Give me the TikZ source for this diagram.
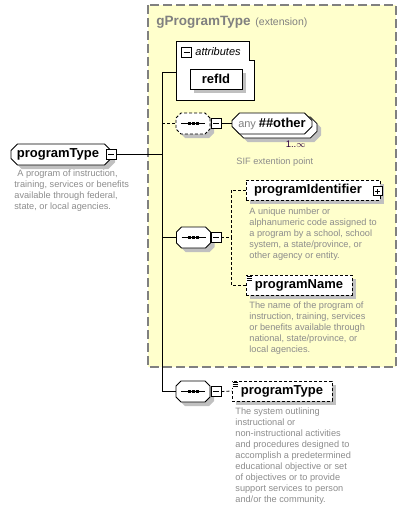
\documentclass[tikz,border=0pt]{standalone}
\usepackage{fontspec}
\setmainfont{Liberation Sans}
\usetikzlibrary{shapes.misc,shadows,calc}

\definecolor{grpfill}{RGB}{255,255,204}
\definecolor{grpline}{RGB}{128,128,128}
\definecolor{shade}{RGB}{192,192,192}
\definecolor{notecol}{RGB}{140,140,140}

\tikzset{
  shd/.style={drop shadow={shadow xshift=4pt,shadow yshift=-4pt,fill=shade,opacity=1}},
  elem/.style={draw,fill=white,inner sep=0pt,shd,font=\fontsize{13}{15}\selectfont\bfseries},
  opt/.style={dash pattern=on 3pt off 2pt},
  grp/.style={draw=grpline,fill=grpfill,line width=1.2pt,dash pattern=on 9pt off 4pt},
  pm/.style={draw,fill=white,minimum size=10pt,inner sep=0pt,
    path picture={\draw ([xshift=2pt]path picture bounding box.west) -- ([xshift=-2pt]path picture bounding box.east);}},
  pp/.style={draw,fill=white,minimum size=9pt,inner sep=0pt,
    path picture={\draw ([xshift=2pt]path picture bounding box.west) -- ([xshift=-2pt]path picture bounding box.east);
      \draw ([yshift=2pt]path picture bounding box.south) -- ([yshift=-2pt]path picture bounding box.north);}},
  seq/.style={draw,fill=white,shd,chamfered rectangle,chamfered rectangle xsep=5pt,inner sep=0pt,
    minimum width=34pt,minimum height=21pt,execute at begin node={\rule[-7pt]{0pt}{14pt}},
    path picture={\draw[solid] ([xshift=5pt]path picture bounding box.west) -- ([xshift=-5pt]path picture bounding box.east);
      \foreach \d in {-4,0,4}{\fill[black] ([xshift=\d pt]path picture bounding box.center) +(-1.5pt,-1.5pt) rectangle +(1.5pt,1.5pt);}}},
  note/.style={anchor=north west,align=left,inner sep=0pt,text=notecol,font=\fontsize{9.2}{11}\selectfont}
}

\begin{document}
\begin{tikzpicture}[x=1pt,y=-1pt,line width=0.8pt]
\useasboundingbox (0,0) rectangle (406,511);

% extension group
\draw[grp] (148,5) rectangle (396,367);
\node[anchor=base west,inner sep=0pt,text=grpline,font=\fontsize{13.5}{15}\selectfont\bfseries] (gname) at (156,26) {gProgramType};
\node[anchor=base west,inner sep=0pt,text=grpline,font=\fontsize{10.5}{12}\selectfont] (gext) at ([xshift=4pt]gname.base east) {(extension)};

% attributes
\draw[fill=white] (176,41) -- (249,41) -- (249,60) -- (254,60) -- (254,100) -- (176,100) -- cycle;
\coordinate (attrin) at (176,72);
\node[pm] (attrpm) at (186.5,52) {};
\node[anchor=west,inner sep=0pt,font=\fontsize{11}{13}\selectfont\itshape] (attrlbl) at (195,51.5) {attributes};
\node[elem,minimum width=52pt,minimum height=20pt] (refid) at (216,79) {refId};

% main element
\node[elem,chamfered rectangle,chamfered rectangle xsep=3pt,minimum width=100pt,minimum height=21pt] (main) at (61,154.5) {programType\hspace*{6pt}};
\node[pm] (mainpm) at (111,154.5) {};
\node[note] (maindesc) at (14,169) {\hspace*{3pt}A program of instruction,\\training, services or benefits\\available through federal,\\state, or local agencies.};

% any
\node[seq,opt] (seqA) at (193,123.5) {};
\node[pm] (seqApm) at (216,123.5) {};
\node[draw,fill=white,shd,chamfered rectangle,chamfered rectangle xsep=4pt,minimum width=80pt,minimum height=21pt] (anyback) at (277,127.5) {};
\node[draw,fill=white,chamfered rectangle,chamfered rectangle xsep=4pt,minimum width=80pt,minimum height=21pt,inner sep=0pt] (any) at (272,123.5)
  {{\fontsize{11}{13}\selectfont\color{grpline}any} {\fontsize{13}{15}\selectfont\bfseries \#\#other}};
\node[anchor=east,inner sep=0pt,font=\fontsize{9.5}{11}\selectfont,text={rgb,255:red,48;green,0;blue,64}] (anymult) at (306,144) {1..$\infty$};
\node[note] (anydesc) at (236,157) {SIF extention point};

% sequence with programIdentifier / programName
\node[seq] (seqB) at (193.5,237.5) {};
\node[pm] (seqBpm) at (216,237.5) {};
\coordinate (cB) at (231,237.5);
\node[elem,opt,minimum width=134pt,minimum height=20pt] (pid) at (313,190) {programIdentifier\hspace*{10pt}};
\node[pp] (pidpp) at (377.5,191) {};
\node[note] (piddesc) at (249,207) {A unique number or\\alphanumeric code assigned to\\a program by a school, school\\system, a state/province, or\\other agency or entity.};
\node[elem,opt,minimum width=106pt,minimum height=20pt] (pname) at (299,285) {programName};
\node[note] (pnamedesc) at (249,301) {The name of the program of\\instruction, training, services\\or benefits available through\\national, state/province, or\\local agencies.};

% last sequence
\node[seq] (seqC) at (193,391.5) {};
\node[pm] (seqCpm) at (216,391.5) {};
\node[elem,opt,minimum width=100pt,minimum height=20pt] (ptype) at (282,391) {programType};
\node[note] (ptypedesc) at (235,407) {The system outlining\\instructional or\\non-instructional activities\\and procedures designed to\\accomplish a predetermined\\educational objective or set\\of objectives or to provide\\support services to person\\and/or the community.};

% connectors
\coordinate (jtop) at (162,72);
\coordinate (jbot) at (162,391.5);
\draw (attrin) -- (jtop) -- (jbot) -- (seqC.west);
\draw (mainpm.east) -- (mainpm.east -| jtop);
\draw[opt] (jtop |- seqA) -- (seqA.west);
\draw (seqApm.east) -- (any.west);
\draw (jtop |- seqB) -- (seqB.west);
\draw[opt] (seqBpm.east) -- (cB);
\draw[opt] (pid.west) -| (cB);
\draw[opt] (pname.west) -| (cB);
\draw[opt] (seqCpm.east) -- (ptype.west);

% list icons
\foreach \n in {pname,ptype}{
  \fill[white] ($(\n.north west)+(0,1)$) rectangle +(7,6);
  \foreach \k in {2,4,6}{
    \draw[line width=0.6pt] ($(\n.north west)+(1,\k)$) -- +(5,0);
  }
}

\end{tikzpicture}
\end{document}
